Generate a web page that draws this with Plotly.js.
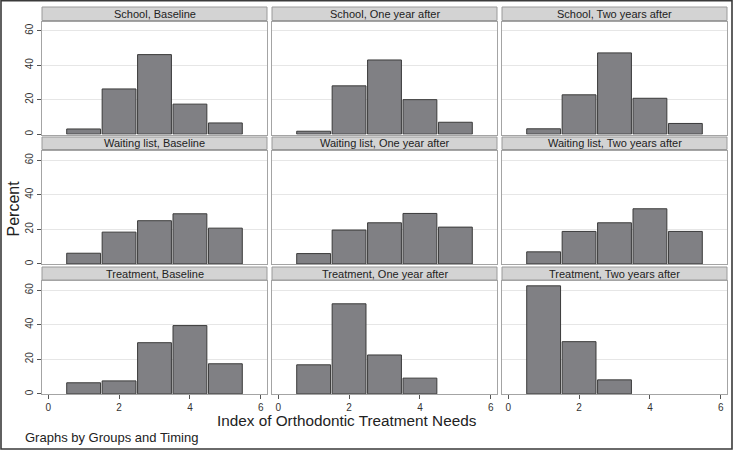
<!DOCTYPE html>
<html>
<head>
<meta charset="utf-8">
<script src="https://cdn.plot.ly/plotly-3.0.1.min.js"></script>
<style>html,body{margin:0;padding:0;background:#fff;}#chart{width:733px;height:450px;}</style>
</head>
<body>
<div id="chart"></div>
<script>
// ---- Data (percent of subjects per IOTN grade) ----
const groups = ["School", "Waiting list", "Treatment"];
const timings = ["Baseline", "One year after", "Two years after"];
const grades = [1, 2, 3, 4, 5];

const schoolBaseline      = [3.0, 26.2, 46.1, 17.4, 6.5];
const schoolOneYear       = [1.7, 28.0, 43.0, 20.0, 6.9];
const schoolTwoYears      = [3.1, 22.8, 47.1, 20.8, 6.2];
const waitingBaseline     = [6.2, 18.4, 25.0, 29.0, 20.7];
const waitingOneYear      = [6.0, 19.6, 23.8, 29.2, 21.3];
const waitingTwoYears     = [7.0, 18.8, 23.8, 31.9, 18.8];
const treatmentBaseline   = [6.4, 7.5, 29.6, 39.5, 17.4];
const treatmentOneYear    = [16.8, 52.1, 22.5, 9.1, null];
const treatmentTwoYears   = [62.5, 30.2, 8.1, null, null];

const xTicks = [0, 2, 4, 6];
const yTicks = [0, 20, 40, 60];

const panels = [
  schoolBaseline, schoolOneYear, schoolTwoYears,
  waitingBaseline, waitingOneYear, waitingTwoYears,
  treatmentBaseline, treatmentOneYear, treatmentTwoYears
];

// ---- Layout geometry (pixels) ----
const W = 733, H = 450;
const cols = [[42, 267], [272, 497], [502, 727]];
const rows = [[21.5, 134.5], [151, 264.3], [281, 394.2]];
const strips = [[7, 20.5], [137, 149.5], [267, 280]];
const FONT = "Liberation Sans, Arial, Helvetica, sans-serif";

const px = v => v / W;
const py = v => 1 - v / H;

const data = [];
const layout = {
  width: W, height: H,
  margin: {l: 0, r: 0, t: 0, b: 0},
  paper_bgcolor: "#ffffff",
  plot_bgcolor: "#ffffff",
  showlegend: false,
  font: {family: FONT, color: "#222"},
  shapes: [],
  annotations: []
};

panels.forEach((vals, i) => {
  const r = Math.floor(i / 3), c = i % 3;
  const sfx = i === 0 ? "" : String(i + 1);
  data.push({
    type: "bar",
    x: grades,
    y: vals,
    width: 0.955,
    xaxis: "x" + sfx,
    yaxis: "y" + sfx,
    marker: {color: "#808084", line: {color: "#3a3a3a", width: 1}},
    hoverinfo: "x+y"
  });
  layout["xaxis" + sfx] = {
    domain: [px(cols[c][0]), px(cols[c][1])],
    anchor: "y" + sfx,
    range: [-0.175, 6.175],
    tickvals: xTicks,
    showgrid: false, zeroline: false,
    showline: true, mirror: true, linecolor: "#a4a4a4", linewidth: 1,
    ticks: r === 2 ? "outside" : "", ticklen: 4, tickcolor: "#555",
    showticklabels: r === 2,
    tickfont: {size: 10, color: "#333", family: FONT},
    fixedrange: true
  };
  layout["yaxis" + sfx] = {
    domain: [py(rows[r][1]), py(rows[r][0])],
    anchor: "x" + sfx,
    range: [-0.2, 65.3],
    tickvals: yTicks,
    showgrid: true, gridcolor: "#e6e6e6", gridwidth: 1,
    zeroline: false,
    showline: true, mirror: true, linecolor: "#a4a4a4", linewidth: 1,
    ticks: c === 0 ? "outside" : "", ticklen: 4, tickcolor: "#555",
    showticklabels: c === 0,
    tickangle: -90,
    tickfont: {size: 10, color: "#333", family: FONT},
    fixedrange: true
  };
  // strip header
  layout.shapes.push({
    type: "rect", xref: "paper", yref: "paper",
    x0: px(cols[c][0]), x1: px(cols[c][1]),
    y0: py(strips[r][1]), y1: py(strips[r][0]),
    fillcolor: "#d3d3d3", line: {color: "#9a9a9a", width: 1}, layer: "below"
  });
  layout.annotations.push({
    xref: "paper", yref: "paper",
    x: px((cols[c][0] + cols[c][1]) / 2),
    y: py((strips[r][0] + strips[r][1]) / 2),
    text: groups[r] + ", " + timings[c],
    showarrow: false, xanchor: "center", yanchor: "middle",
    font: {size: 11, color: "#222", family: FONT}
  });
});

// outer frame
layout.shapes.push({
  type: "rect", xref: "paper", yref: "paper",
  x0: px(1), x1: px(732), y0: py(449), y1: py(0.8),
  line: {color: "#3a3a3a", width: 1.6}, fillcolor: "rgba(0,0,0,0)"
});

// axis titles and note
layout.annotations.push({
  xref: "paper", yref: "paper", x: px(12.5), y: py(209),
  text: "Percent", textangle: -90, showarrow: false,
  xanchor: "center", yanchor: "middle",
  font: {size: 16, color: "#222", family: FONT}
});
layout.annotations.push({
  xref: "paper", yref: "paper", x: px(347), y: py(420),
  text: "Index of Orthodontic Treatment Needs", showarrow: false,
  xanchor: "center", yanchor: "middle",
  font: {size: 15.3, color: "#222", family: FONT}
});
layout.annotations.push({
  xref: "paper", yref: "paper", x: px(23), y: py(437.5),
  text: "Graphs by Groups and Timing", showarrow: false,
  xanchor: "left", yanchor: "middle",
  font: {size: 13, color: "#222", family: FONT}
});

Plotly.newPlot("chart", data, layout, {displayModeBar: false, staticPlot: true});
</script>
</body>
</html>
